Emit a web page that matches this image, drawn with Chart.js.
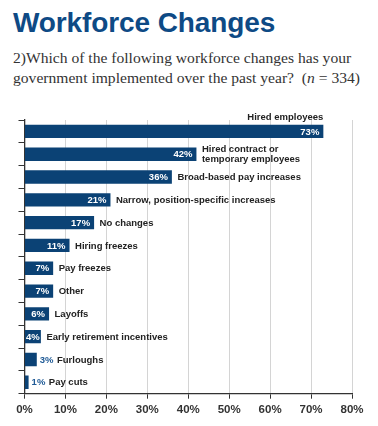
<!DOCTYPE html>
<html><head><meta charset="utf-8">
<script src="https://cdn.jsdelivr.net/npm/chart.js@4/dist/chart.umd.min.js"></script>
<style>
html,body{margin:0;padding:0;background:#fff;width:378px;height:426px;overflow:hidden;position:relative}
#title{position:absolute;left:13px;top:9px;font-family:"Liberation Sans",Arial,sans-serif;font-weight:bold;font-size:28px;line-height:28px;color:#0e4a85;white-space:nowrap;letter-spacing:-0.1px}
#sub{position:absolute;left:13px;top:47.5px;font-family:"Liberation Serif","Times New Roman",serif;font-size:15.6px;line-height:20px;color:#333;white-space:nowrap}
#wrap{position:absolute;left:0;top:100px;width:378px;height:326px}
</style></head>
<body>
<div id="title">Workforce Changes</div>
<div id="sub">2)Which of the following workforce changes has your<br>government implemented over the past year?&nbsp; (<i>n</i> = 334)</div>
<div id="wrap"><canvas id="c" width="378" height="326"></canvas></div>
<script>
const categories = [
  "Hired employees",
  ["Hired contract or", "temporary employees"],
  "Broad-based pay increases",
  "Narrow, position-specific increases",
  "No changes",
  "Hiring freezes",
  "Pay freezes",
  "Other",
  "Layoffs",
  "Early retirement incentives",
  "Furloughs",
  "Pay cuts"
];
const values = [73, 42, 36, 21, 17, 11, 7, 7, 6, 4, 3, 1];
const xTicks = [0, 10, 20, 30, 40, 50, 60, 70, 80];

const FONT = '"Liberation Sans", Arial, sans-serif';
const labelPlugin = {
  id: 'barLabels',
  afterDatasetsDraw(chart) {
    const ctx = chart.ctx;
    const meta = chart.getDatasetMeta(0);
    ctx.save();
    ctx.font = 'bold 9.5px ' + FONT;
    ctx.textBaseline = 'middle';
    meta.data.forEach((bar, i) => {
      const v = values[i];
      const txt = v + '%';
      const y = bar.y;
      const tw = ctx.measureText(txt).width;
      const bw = bar.x - bar.base;
      let catX;
      if (v >= 4) {
        const pad = Math.min(4, Math.max(0.5, (bw - tw) / 2));
        ctx.fillStyle = '#ffffff';
        ctx.textAlign = 'right';
        ctx.fillText(txt, bar.x - pad, y + 0.5);
        catX = bar.x + 5.5;
      } else {
        ctx.fillStyle = '#1f5a96';
        ctx.textAlign = 'left';
        ctx.fillText(txt, bar.x + 3, y + 0.5);
        catX = bar.x + 3 + tw + 3.5;
      }
      ctx.fillStyle = '#222222';
      const cat = categories[i];
      if (i === 0) {
        ctx.textAlign = 'right';
        ctx.fillText(cat, bar.x, y - 14);
      } else if (Array.isArray(cat)) {
        ctx.textAlign = 'left';
        ctx.fillText(cat[0], catX, y - 4.5);
        ctx.fillText(cat[1], catX, y + 5.5);
      } else {
        ctx.textAlign = 'left';
        ctx.fillText(cat, catX, y + 0.5);
      }
    });
    ctx.restore();
  }
};

new Chart(document.getElementById('c'), {
  type: 'bar',
  data: {
    labels: categories.map(c => Array.isArray(c) ? c.join(' ') : c),
    datasets: [{
      data: values,
      backgroundColor: '#0b4275',
      borderWidth: 0,
      categoryPercentage: 1,
      barPercentage: 0.585
    }]
  },
  options: {
    indexAxis: 'y',
    responsive: false,
    animation: false,
    devicePixelRatio: 1,
    layout: { padding: { top: 20, right: 26, left: 0, bottom: 0 } },
    plugins: { legend: { display: false }, tooltip: { enabled: false }, title: { display: false } },
    scales: {
      x: {
        min: 0, max: 80,
        afterBuildTicks: s => { s.ticks = xTicks.map(v => ({ value: v })); },
        afterFit: s => { s.height = 32.3; },
        grid: { color: '#d4d4d4', lineWidth: 1, tickColor: '#333', tickLength: 5, drawTicks: true },
        border: { color: '#333', width: 1.3 },
        ticks: {
          callback: v => v + '%',
          font: { family: FONT, weight: 'bold', size: 11.5 },
          color: '#333', padding: 4, maxRotation: 0
        }
      },
      y: {
        afterFit: s => { s.width = 24.5; },
        grid: { offset: true, drawOnChartArea: false, drawTicks: true, tickLength: 6, color: '#333', tickColor: '#333', lineWidth: 1 },
        border: { color: '#333', width: 1.3 },
        ticks: { display: false }
      }
    }
  },
  plugins: [labelPlugin]
});
</script>
</body></html>
